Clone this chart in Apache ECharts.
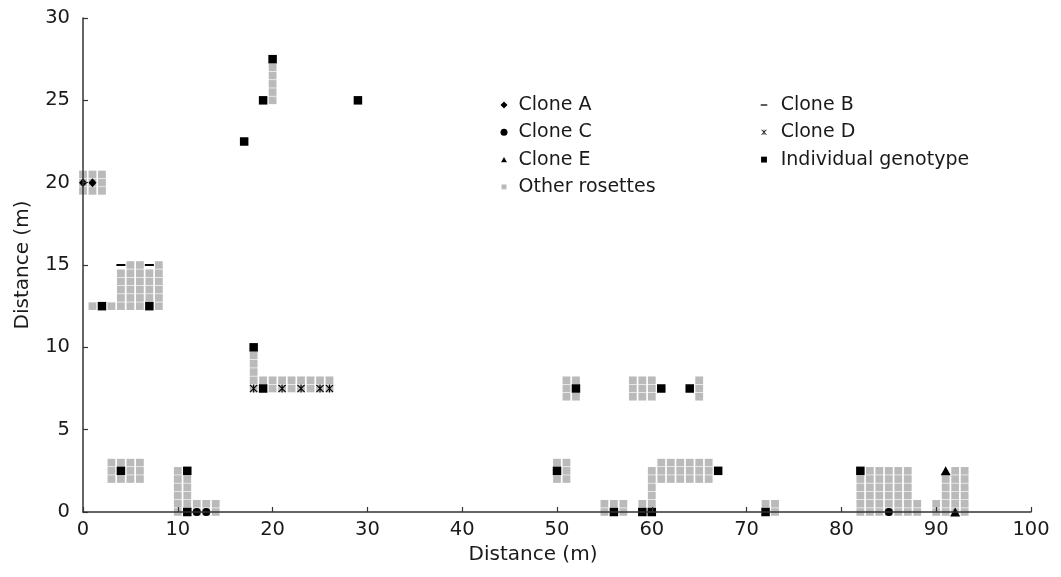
<!DOCTYPE html>
<html>
<head>
<meta charset="utf-8">
<script src="https://cdn.jsdelivr.net/npm/echarts@6/dist/echarts.min.js"></script>
<style>
html,body{margin:0;padding:0;background:#fff;}
#chart{width:1061px;height:577px;}
</style>
</head>
<body>
<div id="chart"></div>
<script>
// ---- data (x, y in metres) ----
const otherRosettes = [
  [0,19.5],[0,20],[0,20.5],[1,19.5],[1,20],[1,20.5],[2,19.5],[2,20],[2,20.5],
  [1,12.5],[3,12.5],[4,12.5],[5,12.5],[6,12.5],[8,12.5],
  [4,13],[5,13],[6,13],[7,13],[8,13],
  [4,13.5],[5,13.5],[6,13.5],[7,13.5],[8,13.5],
  [4,14],[5,14],[6,14],[7,14],[8,14],
  [4,14.5],[5,14.5],[6,14.5],[7,14.5],[8,14.5],
  [5,15],[6,15],[8,15],
  [20,25],[20,25.5],[20,26],[20,26.5],[20,27],
  [18,7.5],[18,8],[18,8.5],[18,9],[18,9.5],
  [19,8],[20,8],[21,8],[22,8],[23,8],[24,8],[25,8],[26,8],
  [20,7.5],[21,7.5],[22,7.5],[23,7.5],[24,7.5],[25,7.5],[26,7.5],
  [3,2],[4,2],[5,2],[6,2],[3,2.5],[5,2.5],[6,2.5],[3,3],[4,3],[5,3],[6,3],
  [10,0],[10,0.5],[10,1],[10,1.5],[10,2],[10,2.5],
  [11,0.5],[11,1],[11,1.5],[11,2],
  [12,0],[12,0.5],[13,0],[13,0.5],[14,0],[14,0.5],
  [50,2],[50,3],[51,2],[51,2.5],[51,3],
  [51,7],[51,7.5],[51,8],[52,7],[52,8],
  [55,0],[55,0.5],[56,0.5],[57,0],[57,0.5],
  [58,7],[58,7.5],[58,8],[59,7],[59,7.5],[59,8],[60,7],[60,7.5],[60,8],
  [65,7],[65,7.5],[65,8],
  [59,0.5],[60,0.5],[60,1],[60,1.5],[60,2],[60,2.5],
  [61,2],[62,2],[63,2],[64,2],[65,2],[66,2],
  [61,2.5],[62,2.5],[63,2.5],[64,2.5],[65,2.5],[66,2.5],
  [61,3],[62,3],[63,3],[64,3],[65,3],[66,3],
  [72,0.5],[73,0],[73,0.5],
  [82,0],[82,0.5],[82,1],[82,1.5],[82,2],
  [83,0],[83,0.5],[83,1],[83,1.5],[83,2],[83,2.5],
  [84,0],[84,0.5],[84,1],[84,1.5],[84,2],[84,2.5],
  [85,0],[85,0.5],[85,1],[85,1.5],[85,2],[85,2.5],
  [86,0],[86,0.5],[86,1],[86,1.5],[86,2],[86,2.5],
  [87,0],[87,0.5],[87,1],[87,1.5],[87,2],[87,2.5],
  [88,0],[88,0.5],[90,0],[90,0.5],
  [91,0],[91,0.5],[91,1],[91,1.5],[91,2],
  [92,0],[92,0.5],[92,1],[92,1.5],[92,2],[92,2.5],
  [93,0],[93,0.5],[93,1],[93,1.5],[93,2],[93,2.5]
];
const individualGenotype = [
  [2,12.5],[7,12.5],[20,27.5],[19,25],[29,25],[17,22.5],[18,10],[19,7.5],
  [4,2.5],[11,2.5],[11,0],[52,7.5],[61,7.5],[64,7.5],[50,2.5],[56,0],
  [59,0],[60,0],[67,2.5],[72,0],[82,2.5]
];
const cloneA = [[0,20],[1,20]];
const cloneB = [[4,15],[7,15]];
const cloneC = [[12,0],[13,0],[85,0]];
const cloneD = [[18,7.5],[21,7.5],[23,7.5],[25,7.5],[26,7.5]];
const cloneE = [[91,2.5],[92,0]];

const xRange = {min:0, max:100, interval:10};
const yRange = {min:0, max:30, interval:5};
const axisTitle = 'Distance (m)';

// ---- styling ----
const FONT = 'DejaVu Sans';
const TXT = '#1a1a1a';
const AX = '#333';
const starPath = 'path://M4.3,0H5.7V10H4.3Z M0,1L1,0L10,9L9,10Z M9,0L10,1L1,10L0,9Z';
const icons = {
  diamond: 'path://M5,0L10,5L5,10L0,5Z',
  circle: 'circle',
  triangle: 'path://M0,0M5,1.2L9.2,8.8L0.8,8.8Z M10,10',
  gray: 'path://M0,0M1.5,1.5H8.5V8.5H1.5Z M10,10',
  dash: 'path://M0,0M0.3,4.1H9.7V5.9H0.3Z M10,10',
  star: 'path://M0,0 M5.6,1H6.4V9H5.6Z M2.2,1.8L2.9,1.1L9.8,8.2L9.1,8.9Z M9.1,1.1L9.8,1.8L2.9,8.9L2.2,8.2Z M12,10',
  black: 'path://M0,0M0.8,0.8H9.2V9.2H0.8Z M10,10'
};

const chart = echarts.init(document.getElementById('chart'), null, {renderer:'canvas'});
const axisCommon = {
  type: 'value',
  nameLocation: 'middle',
  nameTextStyle: {fontFamily: FONT, fontSize: 20, color: TXT},
  axisLine: {show: true, lineStyle: {color: AX, width: 1.5}},
  axisTick: {show: true, inside: true, length: 5, lineStyle: {color: AX, width: 1.2}},
  axisLabel: {fontFamily: FONT, fontSize: 19.5, color: TXT},
  splitLine: {show: false},
  z: 5
};
const legendCommon = {
  orient: 'vertical',
  padding: 0,
  itemHeight: 7,
  itemGap: 8.3,
  selectedMode: false,
  textStyle: {fontFamily: FONT, fontSize: 19, lineHeight: 19, color: TXT}
};
chart.setOption({
  animation: false,
  backgroundColor: '#fff',
  grid: {left: 83, right: 30, top: 18, bottom: 65},
  xAxis: Object.assign({}, axisCommon, xRange, {
    name: axisTitle, nameGap: 29,
    nameTextStyle: {fontFamily: FONT, fontSize: 20, color: TXT, padding: [0, 48, 0, 0]},
    axisLabel: Object.assign({}, axisCommon.axisLabel, {margin: 8})
  }),
  yAxis: Object.assign({}, axisCommon, yRange, {
    name: axisTitle, nameGap: 50,
    axisLabel: Object.assign({}, axisCommon.axisLabel, {margin: 13})
  }),
  legend: [
    Object.assign({}, legendCommon, {
      left: 500.5, top: 95.5, itemWidth: 19,
      data: [
        {name: 'Clone A', icon: icons.diamond},
        {name: 'Clone C', icon: icons.circle},
        {name: 'Clone E', icon: icons.triangle},
        {name: 'Other rosettes', icon: icons.gray}
      ]
    }),
    Object.assign({}, legendCommon, {
      left: 759.8, top: 95.5, itemWidth: 23.4,
      data: [
        {name: 'Clone B', icon: icons.dash},
        {name: 'Clone D', icon: icons.star},
        {name: 'Individual genotype', icon: icons.black}
      ]
    })
  ],
  series: [
    {name: 'Other rosettes', type: 'scatter', clip: false, data: otherRosettes,
     symbol: 'rect', symbolSize: [7.8, 7.6], itemStyle: {color: '#bababa', opacity: 1}, z: 2},
    {name: 'Individual genotype', type: 'scatter', clip: false, data: individualGenotype,
     symbol: 'rect', symbolSize: [8.5, 8.5], itemStyle: {color: '#000', opacity: 1}, z: 3},
    {name: 'Clone A', type: 'scatter', clip: false, data: cloneA,
     symbol: 'diamond', symbolSize: [8, 9], itemStyle: {color: '#000', opacity: 1}, z: 3},
    {name: 'Clone B', type: 'scatter', clip: false, data: cloneB,
     symbol: 'rect', symbolSize: [9, 2], itemStyle: {color: '#000', opacity: 1}, z: 3},
    {name: 'Clone C', type: 'scatter', clip: false, data: cloneC,
     symbol: 'circle', symbolSize: 8, itemStyle: {color: '#000', opacity: 1}, z: 3},
    {name: 'Clone D', type: 'scatter', clip: false, data: cloneD,
     symbol: starPath, symbolSize: 8, itemStyle: {color: '#000', opacity: 1}, z: 3},
    {name: 'Clone E', type: 'scatter', clip: false, data: cloneE,
     symbol: 'triangle', symbolSize: [10, 9], itemStyle: {color: '#000', opacity: 1}, z: 3}
  ]
});
</script>
</body>
</html>
